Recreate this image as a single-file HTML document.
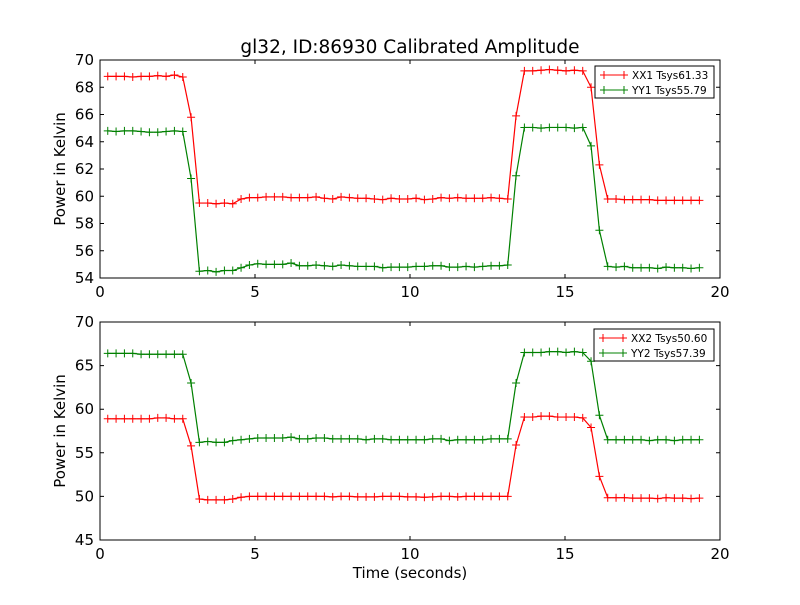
<!DOCTYPE html>
<html><head><meta charset="utf-8"><style>
body{margin:0;background:#fff;}
svg text{font-family:"DejaVu Sans","Liberation Sans",sans-serif;}
</style></head><body>
<svg id="chart" width="800" height="600" xmlns="http://www.w3.org/2000/svg"></svg>
<script>
const xTicks=[0,5,10,15,20];
const yTicksTop=[54,56,58,60,62,64,66,68,70];
const yTicksBot=[45,50,55,60,65,70];
const t0=0.25, dt=0.2688;
const xx1=[68.8,68.8,68.8,68.75,68.8,68.8,68.85,68.8,68.9,68.75,65.8,59.5,59.5,59.45,59.5,59.45,
59.8,59.9,59.9,59.95,59.95,59.95,59.9,59.9,59.9,59.95,59.85,59.8,59.95,59.9,59.85,59.85,59.8,59.75,59.85,59.8,59.8,59.85,59.75,59.8,59.9,59.85,59.9,59.85,59.85,59.85,59.9,59.85,59.8,
65.9,69.2,69.2,69.25,69.3,69.25,69.2,69.25,69.2,68.0,62.3,
59.8,59.8,59.75,59.75,59.75,59.75,59.7,59.7,59.7,59.7,59.7,59.7];
const yy1=[64.8,64.75,64.8,64.8,64.75,64.7,64.7,64.75,64.8,64.75,61.3,54.5,54.55,54.45,54.55,54.55,
54.75,54.95,55.05,55.0,55.0,55.0,55.1,54.9,54.9,54.95,54.9,54.85,54.95,54.9,54.85,54.85,54.85,54.75,54.8,54.8,54.8,54.85,54.85,54.9,54.9,54.8,54.8,54.85,54.8,54.85,54.9,54.9,54.95,
61.5,65.05,65.05,65.0,65.05,65.05,65.05,65.0,65.05,63.7,57.5,
54.85,54.8,54.85,54.75,54.75,54.75,54.7,54.8,54.75,54.75,54.7,54.75];
const xx2=[58.9,58.9,58.9,58.9,58.9,58.9,59.0,59.0,58.9,58.9,55.8,49.7,49.6,49.6,49.6,49.7,
49.9,50.0,50.0,50.0,50.0,50.0,50.0,50.0,50.0,50.0,50.0,49.95,50.0,50.0,49.95,49.95,49.95,50.0,50.0,50.0,49.95,49.95,49.9,49.95,50.0,50.0,49.95,50.0,50.0,50.0,50.0,50.0,50.0,
55.9,59.1,59.1,59.2,59.2,59.1,59.1,59.1,59.0,57.9,52.3,
49.85,49.85,49.85,49.8,49.8,49.8,49.75,49.85,49.8,49.8,49.75,49.8];
const yy2=[66.4,66.4,66.4,66.4,66.3,66.3,66.3,66.3,66.3,66.3,63.0,56.2,56.3,56.2,56.2,56.4,
56.5,56.6,56.7,56.7,56.7,56.7,56.8,56.6,56.6,56.7,56.7,56.6,56.6,56.6,56.6,56.5,56.6,56.6,56.5,56.5,56.5,56.5,56.5,56.6,56.6,56.4,56.5,56.5,56.5,56.5,56.6,56.6,56.6,
63.0,66.5,66.5,66.5,66.6,66.6,66.5,66.6,66.5,65.5,59.3,
56.5,56.5,56.5,56.5,56.5,56.4,56.5,56.5,56.4,56.5,56.5,56.5];

const NS="http://www.w3.org/2000/svg";
const svg=document.getElementById('chart');
function mk(tag,attrs,parent){const e=document.createElementNS(NS,tag);for(const k in attrs)e.setAttribute(k,attrs[k]);(parent||svg).appendChild(e);return e;}

function panel(cfg){
  const L=100,R=720,T=cfg.top,B=cfg.bottom;
  const xs=v=>L+(v-0)/20*(R-L);
  const ys=v=>B-(v-cfg.ymin)/(cfg.ymax-cfg.ymin)*(B-T);
  const g=mk('g',{});
  
  
  cfg.series.forEach(s=>{
    const sg=mk('g',{},g);
    
    
    let d='';
    s.data.forEach((v,i)=>{const x=xs(t0+i*dt),y=ys(v);d+=(i?'L':'M')+x.toFixed(2)+' '+y.toFixed(2);});
    mk('path',{d:d,fill:'none',stroke:s.color,'stroke-width':1.2},sg);
    let m='';
    s.data.forEach((v,i)=>{const x=xs(t0+i*dt),y=ys(v);m+=`M${(x-4).toFixed(2)} ${y.toFixed(2)}h8M${x.toFixed(2)} ${(y-4).toFixed(2)}v8`;});
    mk('path',{d:m,fill:'none',stroke:s.color,'stroke-width':1},sg);
  });
  const fr=mk('rect',{x:L,y:T,width:R-L,height:B-T,fill:'none',stroke:'#000','stroke-width':1},g);
  
  
  xTicks.forEach(v=>{
    const x=xs(v);
    mk('path',{d:`M${x} ${B}v-4M${x} ${T}v4`,stroke:'#000'},g);
    const t=mk('text',{x:x,y:B+19,'text-anchor':'middle','font-size':15},g);
    t.textContent=v;
    
    
  });
  cfg.yticks.forEach(v=>{
    const y=ys(v);
    mk('path',{d:`M${L} ${y}h4M${R} ${y}h-4`,stroke:'#000'},g);
    const t=mk('text',{x:L-6,y:y+5,'text-anchor':'end','font-size':15},g);
    t.textContent=v;
    
    
  });
  const yl=mk('text',{x:0,y:0,transform:`translate(65 ${(T+B)/2}) rotate(-90)`,'text-anchor':'middle','font-size':15},g);
  yl.textContent='Power in Kelvin';
  
  
  const lg=mk('g',{},g);
  
  
  mk('rect',{x:cfg.lx,y:cfg.ly,width:cfg.lw,height:32,fill:'#fff',stroke:'#000'},lg);
  cfg.series.forEach((s,i)=>{
    const y=cfg.ly+9+i*15;
    const e=mk('g',{},lg);
    
    
    mk('path',{d:`M${cfg.lx+5} ${y}h28M${cfg.lx+9} ${y-4}v8M${cfg.lx+29} ${y-4}v8`,stroke:s.color,'stroke-width':1},e);
    const tx=mk('text',{x:cfg.lx+37,y:y+4,'font-size':10.5},e);
    tx.textContent=s.label;
  });
}
panel({name:'top-panel',top:60,bottom:278,ymin:54,ymax:70,yticks:yTicksTop,lx:595,ly:66,lw:119,
  series:[{name:'xx1-line',label:'XX1 Tsys61.33',color:'#ff0000',data:xx1},{name:'yy1-line',label:'YY1 Tsys55.79',color:'#008000',data:yy1}]});
panel({name:'bottom-panel',top:322,bottom:540,ymin:45,ymax:70,yticks:yTicksBot,lx:594,ly:329,lw:120,
  series:[{name:'xx2-line',label:'XX2 Tsys50.60',color:'#ff0000',data:xx2},{name:'yy2-line',label:'YY2 Tsys57.39',color:'#008000',data:yy2}]});
const title=mk('text',{x:410,y:53,'text-anchor':'middle','font-size':18.5});
title.textContent='gl32, ID:86930 Calibrated Amplitude';


const xt=mk('text',{x:410,y:578,'text-anchor':'middle','font-size':15});
xt.textContent='Time (seconds)';


</script>
</body></html>
